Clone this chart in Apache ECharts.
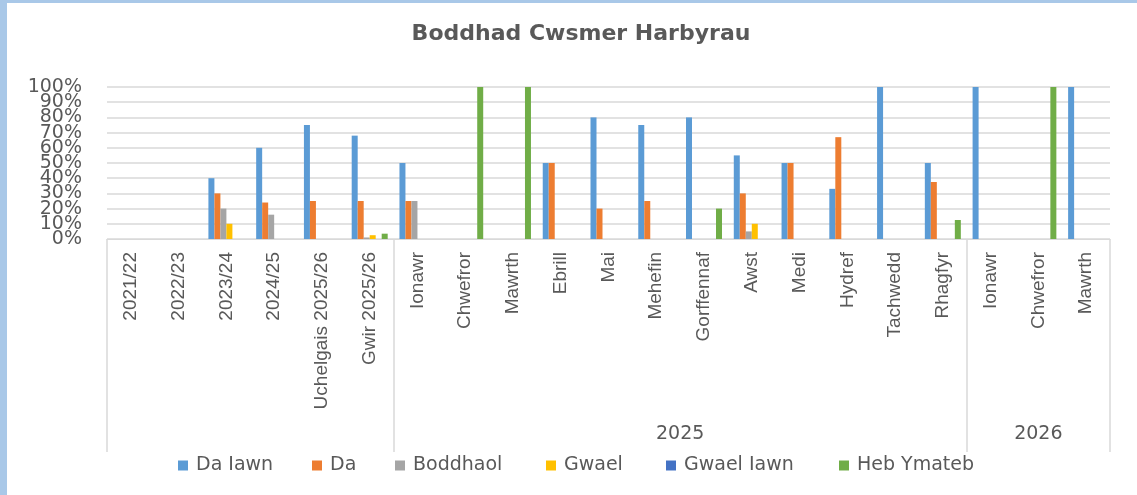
<!DOCTYPE html>
<html>
<head>
<meta charset="utf-8">
<script src="https://cdn.jsdelivr.net/npm/echarts@6/dist/echarts.min.js"></script>
<style>
html,body{margin:0;padding:0;background:#fff;}
#chart{width:1137px;height:495px;}
</style>
</head>
<body>
<div id="chart"></div>
<script>
// ---- data ----
const titleText = 'Boddhad Cwsmer Harbyrau';
const categories = ['2021/22','2022/23','2023/24','2024/25','Uchelgais 2025/26','Gwir 2025/26',
  'Ionawr','Chwefror','Mawrth','Ebrill','Mai','Mehefin','Gorffennaf','Awst','Medi','Hydref','Tachwedd','Rhagfyr',
  'Ionawr','Chwefror','Mawrth'];
const groupNames = ['', '2025', '2026'];
const groupSizes = [6, 12, 3];
const seriesNames = ['Da Iawn','Da','Boddhaol','Gwael','Gwael Iawn','Heb Ymateb'];
const daIawn    = [null,null,40,60,75,68,50,null,null,50,80,75,80,55,50,33,100,50,100,null,100];
const da        = [null,null,30,24,25,25,25,null,null,50,20,25,null,30,50,67,null,37.5,null,null,null];
const boddhaol  = [null,null,20,16,null,1,25,null,null,null,null,null,null,5,null,null,null,null,null,null,null];
const gwael     = [null,null,10,null,null,2.5,null,null,null,null,null,null,null,10,null,null,null,null,null,null,null];
const gwaelIawn = [null,null,null,null,null,null,null,null,null,null,null,null,null,null,null,null,null,null,null,null,null];
const hebYmateb = [null,null,null,null,null,3.5,null,100,100,null,null,null,20,null,null,null,null,12.5,null,100,null];
const yTicks = [0,10,20,30,40,50,60,70,80,90,100];

// ---- styles ----
const colors = ['#5B9BD5','#ED7D31','#A5A5A5','#FFC000','#4472C4','#70AD47'];
const legendLefts = [173, 307, 390, 541, 661, 834];
const txt = '#595959';
const gridCol = '#d9d9d9';

const seriesData = [daIawn, da, boddhaol, gwael, gwaelIawn, hebYmateb];

// group boundaries and centres derived from the group sizes
const bounds = [0];
groupSizes.forEach(s => bounds.push(bounds[bounds.length - 1] + s));
const centres = [];
const centreName = {};
groupSizes.forEach((s, i) => {
  if (groupNames[i]) {
    const c = bounds[i] + s / 2;
    centres.push(c);
    centreName[c] = groupNames[i];
  }
});

// y tick labels split in two alternating sets so that the large labels are not auto-hidden
const yEven = yTicks.filter((v, i) => i % 2 === 0);
const yOdd = yTicks.filter((v, i) => i % 2 === 1);
const yLabelStyle = {
  margin: 25, formatter: '{value}%',
  fontFamily: 'DejaVu Sans', fontSize: 19, color: txt
};

const chart = echarts.init(document.getElementById('chart'));
chart.setOption({
  animation: false,
  backgroundColor: '#fff',
  title: {
    text: titleText,
    left: 576,
    top: 18,
    textAlign: 'center',
    textStyle: { fontFamily: 'DejaVu Sans', fontWeight: 'bold', fontSize: 22, color: txt }
  },
  legend: seriesNames.map((n, i) => ({
    data: [n],
    left: legendLefts[i],
    top: 451,
    itemWidth: 10,
    itemHeight: 10,
    itemGap: 0,
    icon: 'rect',
    textStyle: { fontFamily: 'DejaVu Sans', fontSize: 19, color: txt, padding: [0, 0, 0, 3] }
  })),
  grid: { left: 107, right: 27, top: 87, bottom: 256, containLabel: false },
  xAxis: [
    {
      type: 'category',
      data: categories,
      position: 'bottom',
      axisLine: { show: true, lineStyle: { color: gridCol, width: 1 } },
      axisTick: { show: false },
      splitLine: { show: false },
      axisLabel: {
        interval: 0, rotate: 90, margin: 13,
        fontFamily: 'Liberation Sans', fontSize: 19, color: txt
      }
    },
    {
      type: 'value',
      min: 0,
      max: bounds[bounds.length - 1],
      position: 'bottom',
      axisLine: { show: false },
      splitLine: { show: false },
      axisTick: {
        show: true, inside: false, length: 213,
        customValues: bounds,
        lineStyle: { color: gridCol, width: 1.5 }
      },
      axisLabel: {
        show: true, margin: 186,
        customValues: centres,
        formatter: v => centreName[v] || '',
        fontFamily: 'DejaVu Sans', fontSize: 19, color: txt
      }
    }
  ],
  yAxis: [
    {
      type: 'value',
      position: 'left',
      min: yTicks[0],
      max: yTicks[yTicks.length - 1],
      interval: yTicks[1] - yTicks[0],
      axisLine: { show: false },
      axisTick: { show: false },
      splitLine: { show: true, lineStyle: { color: gridCol, width: 1.5 } },
      axisLabel: Object.assign({ customValues: yEven }, yLabelStyle)
    },
    {
      type: 'value',
      position: 'left',
      offset: 0,
      min: yTicks[0],
      max: yTicks[yTicks.length - 1],
      interval: yTicks[1] - yTicks[0],
      axisLine: { show: false },
      axisTick: { show: false },
      splitLine: { show: false },
      axisLabel: Object.assign({ customValues: yOdd }, yLabelStyle)
    }
  ],
  graphic: [
    { type: 'rect', left: 0, top: 0, shape: { width: 7, height: 495 }, style: { fill: '#a9c8e8' }, z: 100 },
    { type: 'rect', left: 0, top: 0, shape: { width: 1137, height: 3 }, style: { fill: '#a9c8e8' }, z: 100 }
  ],
  series: seriesNames.map((n, i) => ({
    name: n,
    type: 'bar',
    xAxisIndex: 0,
    yAxisIndex: 0,
    data: seriesData[i],
    barWidth: 6,
    barGap: '0%',
    itemStyle: { color: colors[i] }
  }))
});
</script>
</body>
</html>
